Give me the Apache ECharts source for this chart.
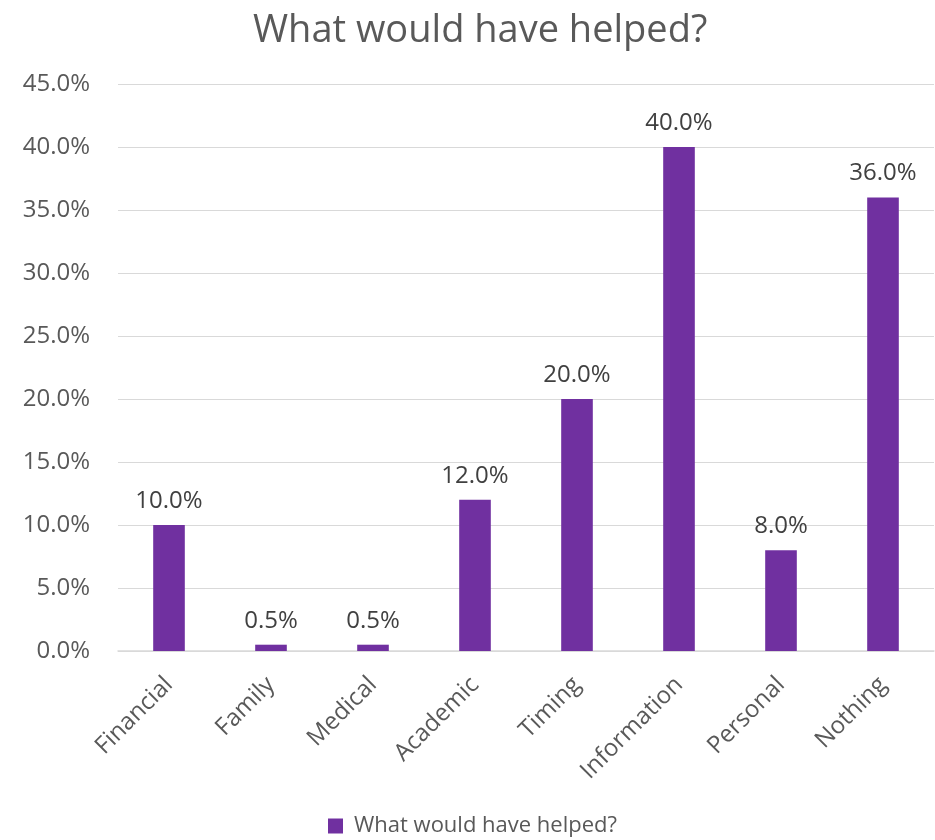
<!DOCTYPE html>
<html><head><meta charset="utf-8">
<script src="https://cdn.jsdelivr.net/npm/echarts@6/dist/echarts.min.js"></script>
<style>html,body{margin:0;padding:0;background:#fff}#c{width:935px;height:840px}</style>
</head><body><div id="c"></div>
<script>
const categories = ["Financial","Family","Medical","Academic","Timing","Information","Personal","Nothing"];
const values = [10.0, 0.5, 0.5, 12.0, 20.0, 40.0, 8.0, 36.0];
const seriesName = "What would have helped?";
const titleText = "What would have helped?";

const font = "'Open Sans', 'Noto Sans', sans-serif";
const chart = echarts.init(document.getElementById('c'), null, {renderer:'canvas'});
chart.setOption({
  animation: false,
  backgroundColor: '#fff',
  title: {text: titleText, left: 253, top: 12, padding: 0,
    textStyle: {fontFamily: font, fontSize: 38, fontWeight: 'normal', color: '#595959'}},
  legend: {top: 815, left: 328, itemWidth: 15, itemHeight: 15, icon: 'rect', itemGap: 6, padding: 0,
    textStyle: {fontFamily: font, fontSize: 22, color: '#595959', padding: [0,0,0,6]}},
  grid: {left: 118, right: 1, top: 84, bottom: 189, containLabel: false},
  xAxis: {type: 'category', data: categories,
    axisLine: {lineStyle: {color: '#d9d9d9', width: 1.5}},
    axisTick: {show: false},
    axisLabel: {rotate: 45, interval: 0, fontFamily: font, fontSize: 24, color: '#595959', margin: 30}},
  yAxis: {type: 'value', min: 0, max: 45, interval: 5,
    axisLine: {show: false}, axisTick: {show: false},
    splitLine: {lineStyle: {color: '#d9d9d9', width: 1}},
    axisLabel: {fontFamily: font, fontSize: 24, color: '#595959', margin: 28,
      formatter: v => v.toFixed(1) + '%'}},
  series: [{name: seriesName, type: 'bar', data: values, barWidth: '31%',
    itemStyle: {color: '#7030A0'},
    label: {show: true, position: 'top', distance: 12, fontFamily: font, fontSize: 24, color: '#404040',
      formatter: p => p.value.toFixed(1) + '%'}}]
});
</script></body></html>
